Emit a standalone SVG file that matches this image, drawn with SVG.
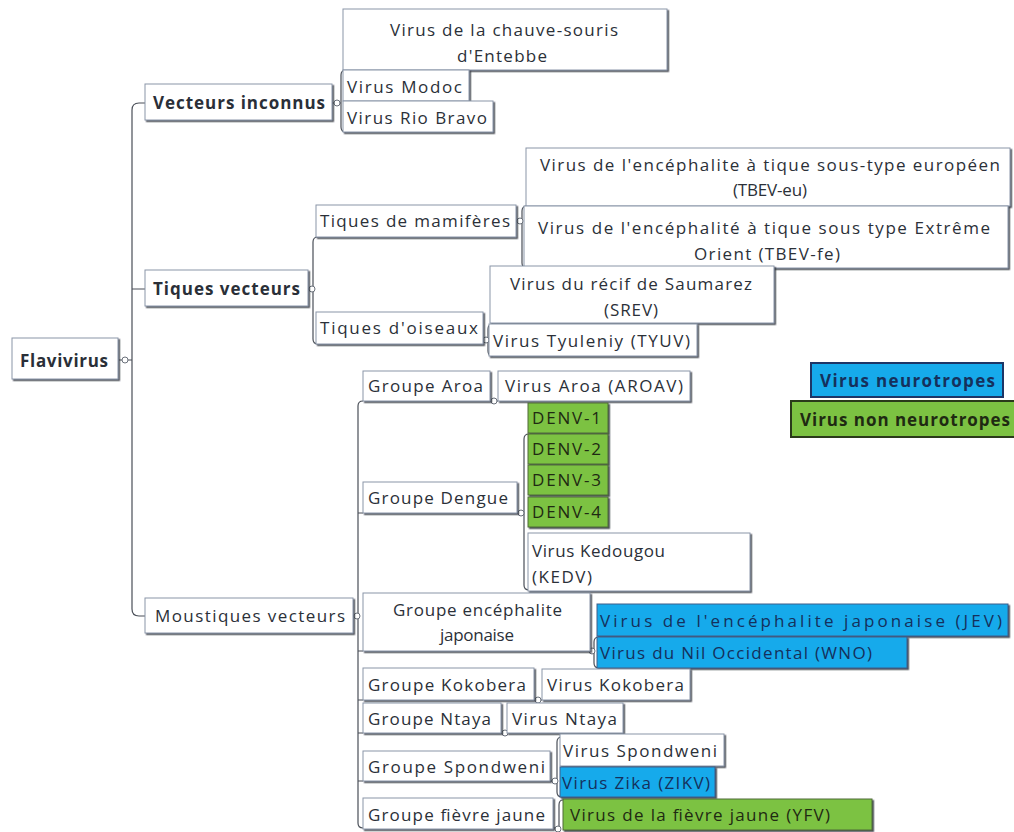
<svg xmlns="http://www.w3.org/2000/svg" width="1014" height="832" viewBox="0 0 1014 832">
<defs>
<filter id="sh" x="-5%" y="-10%" width="115%" height="130%">
<feDropShadow dx="1.5" dy="1.5" stdDeviation="0.6" flood-color="#2a2f3a" flood-opacity="0.85"/>
</filter>
<style>
.b{fill:#ffffff;stroke:#8a95a8;stroke-width:1;filter:url(#sh)}
.blue{fill:#16aaeb;stroke:#3d5c8a;stroke-width:1;filter:url(#sh)}
.green{fill:#7cc242;stroke:#4f6a3a;stroke-width:1;filter:url(#sh)}
.t{font-family:"Open Sans","Noto Sans","Liberation Sans",sans-serif;font-size:17px;fill:#2b3038}
.bold{font-weight:bold;font-size:17px;fill:#2a2f38}
.tb{fill:#15305c}
.tg{fill:#1f2a12}
.c{fill:none;stroke:#4a4f58;stroke-width:1.2}
.dot{fill:#ffffff;stroke:#6a707a;stroke-width:1}
.lg1{fill:#16aaeb;stroke:#1d3566;stroke-width:2}
.lg2{fill:#7cc242;stroke:#2a3a1a;stroke-width:2}
</style>
</defs>
<rect width="1014" height="832" fill="#ffffff"/>

<g id="connectors">
<path class="c" d="M119,360 H132 M132,110 Q132,103 139,103 H145 M132,110 V609 Q132,616 139,616 H145 M132,289 H145"/>
<path class="c" d="M332,103 H341 M346,70 Q341,70 341,75 V127 Q341,132 346,132"/>
<path class="c" d="M308,289 H313 M318,237 Q313,237 313,242 V339 Q313,344 318,344"/>
<path class="c" d="M516,221 H522 M527,206 Q522,206 522,211 V263 Q522,268 527,268"/>
<path class="c" d="M483,340 H488 M493,324 Q488,324 488,329 V351 Q488,356 493,356"/>
<path class="c" d="M353,616 H358 M363,401 Q358,401 358,406 V823 Q358,828 363,828 M358,513 H363 M358,651 H363 M358,700 H363 M358,733 H363 M358,781 H363"/>
<path class="c" d="M490,401 H498"/>
<path class="c" d="M517,513 H524 M529,434 Q524,434 524,439 V585 Q524,590 529,590"/>
<path class="c" d="M590,651 H594 M599,637 Q594,637 594,642 V663 Q594,668 599,668"/>
<path class="c" d="M534,700 H542"/>
<path class="c" d="M501,733 H507"/>
<path class="c" d="M550,781 H557 M562,737 Q557,737 557,742 V792 Q557,797 562,797"/>
<path class="c" d="M553,828 H559 M563,800 Q559,800 559,805 V832"/>
<circle class="dot" cx="125" cy="360" r="3"/>
<circle class="dot" cx="337" cy="103" r="3"/>
<circle class="dot" cx="312" cy="289" r="3"/>
<circle class="dot" cx="520" cy="221" r="3"/>
<circle class="dot" cx="486" cy="340" r="3"/>
<circle class="dot" cx="357" cy="616" r="3"/>
<circle class="dot" cx="494" cy="401" r="3"/>
<circle class="dot" cx="521" cy="513" r="3"/>
<circle class="dot" cx="592" cy="651" r="3"/>
<circle class="dot" cx="538" cy="700" r="3"/>
<circle class="dot" cx="505" cy="733" r="3"/>
<circle class="dot" cx="555" cy="781" r="3"/>
<circle class="dot" cx="558" cy="829" r="3"/>
</g>

<g id="n-flavivirus">
<rect class="b" x="12" y="338" width="106" height="41"/>
<text class="t bold" x="20" y="367" textLength="88" lengthAdjust="spacing">Flavivirus</text>
</g>

<g id="n-vecteurs-inconnus">
<rect class="b" x="145" y="84" width="187" height="36"/>
<text class="t bold" x="153" y="109" textLength="172" lengthAdjust="spacing">Vecteurs inconnus</text>
</g>
<g id="n-entebbe">
<rect class="b" x="343" y="9" width="324" height="61"/>
<text class="t" x="390" y="36" textLength="228" lengthAdjust="spacing">Virus de  la chauve-souris</text>
<text class="t" x="457" y="62" textLength="90" lengthAdjust="spacing">d'Entebbe</text>
</g>
<g id="n-modoc">
<rect class="b" x="343" y="70" width="126" height="31"/>
<text class="t" x="347" y="93" textLength="115" lengthAdjust="spacing">Virus Modoc</text>
</g>
<g id="n-riobravo">
<rect class="b" x="343" y="101" width="150" height="31"/>
<text class="t" x="347" y="124" textLength="140" lengthAdjust="spacing">Virus Rio Bravo</text>
</g>

<g id="n-tiques-vecteurs">
<rect class="b" x="145" y="270" width="163" height="36"/>
<text class="t bold" x="153" y="295" textLength="147" lengthAdjust="spacing">Tiques vecteurs</text>
</g>
<g id="n-tiques-mamiferes">
<rect class="b" x="316" y="205" width="200" height="32"/>
<text class="t" x="320" y="227" textLength="190" lengthAdjust="spacing">Tiques de mamifères</text>
</g>
<g id="n-tbev-eu">
<rect class="b" x="526" y="148" width="484" height="58"/>
<text class="t" x="540" y="171" textLength="460" lengthAdjust="spacing">Virus de  l'encéphalite à tique  sous-type européen</text>
<text class="t" x="733" y="196" textLength="74" lengthAdjust="spacing">(TBEV-eu)</text>
</g>
<g id="n-tbev-fe">
<rect class="b" x="524" y="206" width="484" height="62"/>
<text class="t" x="538" y="234" textLength="452" lengthAdjust="spacing">Virus de  l'encéphalité à tique sous type Extrême</text>
<text class="t" x="694" y="260" textLength="146" lengthAdjust="spacing">Orient (TBEV-fe)</text>
</g>
<g id="n-tiques-oiseaux">
<rect class="b" x="316" y="312" width="167" height="32"/>
<text class="t" x="320" y="334" textLength="158" lengthAdjust="spacing">Tiques d'oiseaux</text>
</g>
<g id="n-srev">
<rect class="b" x="490" y="266" width="284" height="57"/>
<text class="t" x="510" y="290" textLength="242" lengthAdjust="spacing">Virus du récif de Saumarez</text>
<text class="t" x="604" y="316" textLength="54" lengthAdjust="spacing">(SREV)</text>
</g>
<g id="n-tyuv">
<rect class="b" x="489" y="324" width="208" height="32"/>
<text class="t" x="493" y="347" textLength="197" lengthAdjust="spacing">Virus Tyuleniy (TYUV)</text>
</g>

<g id="legend-neuro">
<rect class="lg1" x="811" y="363" width="192" height="34"/>
<text class="t bold tb" x="820" y="387" textLength="175" lengthAdjust="spacing">Virus neurotropes</text>
</g>
<g id="legend-non-neuro">
<rect class="lg2" x="791" y="401" width="226" height="36"/>
<text class="t bold tg" x="800" y="426" textLength="210" lengthAdjust="spacing">Virus non neurotropes</text>
</g>

<g id="n-moustiques">
<rect class="b" x="145" y="598" width="208" height="35"/>
<text class="t" x="155" y="622" textLength="190" lengthAdjust="spacing">Moustiques vecteurs</text>
</g>
<g id="n-aroa">
<rect class="b" x="363" y="371" width="127" height="30"/>
<text class="t" x="368" y="392" textLength="115" lengthAdjust="spacing">Groupe Aroa</text>
</g>
<g id="n-aroav">
<rect class="b" x="498" y="371" width="192" height="30"/>
<text class="t" x="505" y="392" textLength="178" lengthAdjust="spacing">Virus Aroa (AROAV)</text>
</g>
<g id="n-dengue">
<rect class="b" x="363" y="482" width="154" height="31"/>
<text class="t" x="368" y="504" textLength="140" lengthAdjust="spacing">Groupe Dengue</text>
</g>
<g id="n-denv1">
<rect class="green" x="528" y="403" width="80" height="30"/>
<text class="t tg" x="532" y="424" textLength="69" lengthAdjust="spacing">DENV-1</text>
</g>
<g id="n-denv2">
<rect class="green" x="528" y="434" width="80" height="30"/>
<text class="t tg" x="532" y="455" textLength="69" lengthAdjust="spacing">DENV-2</text>
</g>
<g id="n-denv3">
<rect class="green" x="528" y="465" width="80" height="30"/>
<text class="t tg" x="532" y="486" textLength="69" lengthAdjust="spacing">DENV-3</text>
</g>
<g id="n-denv4">
<rect class="green" x="528" y="497" width="80" height="30"/>
<text class="t tg" x="532" y="518" textLength="69" lengthAdjust="spacing">DENV-4</text>
</g>
<g id="n-kedv">
<rect class="b" x="528" y="533" width="222" height="58"/>
<text class="t" x="532" y="557" textLength="133" lengthAdjust="spacing">Virus Kedougou</text>
<text class="t" x="532" y="583" textLength="60" lengthAdjust="spacing">(KEDV)</text>
</g>
<g id="n-enceph-jap">
<rect class="b" x="363" y="593" width="227" height="58"/>
<text class="t" x="393" y="616" textLength="169" lengthAdjust="spacing">Groupe encéphalite</text>
<text class="t" x="440" y="641" textLength="74" lengthAdjust="spacing">japonaise</text>
</g>
<g id="n-jev">
<rect class="blue" x="597" y="604" width="411" height="32"/>
<text class="t tb" x="600" y="627" textLength="402" lengthAdjust="spacing">Virus de l'encéphalite japonaise (JEV)</text>
</g>
<g id="n-wno">
<rect class="blue" x="597" y="637" width="310" height="31"/>
<text class="t tb" x="600" y="659" textLength="272" lengthAdjust="spacing">Virus du Nil Occidental (WNO)</text>
</g>
<g id="n-kokobera">
<rect class="b" x="363" y="668" width="171" height="32"/>
<text class="t" x="368" y="691" textLength="158" lengthAdjust="spacing">Groupe Kokobera</text>
</g>
<g id="n-v-kokobera">
<rect class="b" x="542" y="669" width="148" height="31"/>
<text class="t" x="547" y="691" textLength="137" lengthAdjust="spacing">Virus Kokobera</text>
</g>
<g id="n-ntaya">
<rect class="b" x="363" y="703" width="138" height="30"/>
<text class="t" x="368" y="725" textLength="123" lengthAdjust="spacing">Groupe Ntaya</text>
</g>
<g id="n-v-ntaya">
<rect class="b" x="507" y="703" width="116" height="30"/>
<text class="t" x="512" y="725" textLength="105" lengthAdjust="spacing">Virus Ntaya</text>
</g>
<g id="n-spondweni">
<rect class="b" x="363" y="751" width="187" height="30"/>
<text class="t" x="368" y="773" textLength="177" lengthAdjust="spacing">Groupe Spondweni</text>
</g>
<g id="n-v-spondweni">
<rect class="b" x="560" y="734" width="164" height="32"/>
<text class="t" x="563" y="757" textLength="154" lengthAdjust="spacing">Virus Spondweni</text>
</g>
<g id="n-zikv">
<rect class="blue" x="560" y="767" width="155" height="30"/>
<text class="t tb" x="562" y="789" textLength="148" lengthAdjust="spacing">Virus Zika (ZIKV)</text>
</g>
<g id="n-fievre-jaune">
<rect class="b" x="363" y="798" width="190" height="31"/>
<text class="t" x="368" y="821" textLength="177" lengthAdjust="spacing">Groupe fièvre jaune</text>
</g>
<g id="n-yfv">
<rect class="green" x="563" y="799" width="309" height="31"/>
<text class="t tg" x="570" y="821" textLength="260" lengthAdjust="spacing">Virus de la fièvre jaune (YFV)</text>
</g>
</svg>
